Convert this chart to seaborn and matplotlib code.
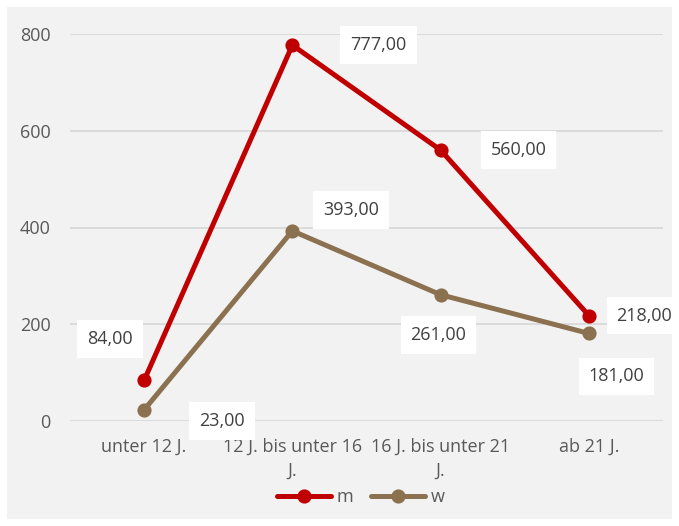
import matplotlib
matplotlib.use("Agg")
import matplotlib.pyplot as plt
import seaborn as sns
import pandas as pd
from matplotlib.patches import Rectangle

categories = ["unter 12 J.", "12 J. bis unter 16\nJ.", "16 J. bis unter 21\nJ.", "ab 21 J."]
m_values = [84, 777, 560, 218]
w_values = [23, 393, 261, 181]
series_names = ["m", "w"]
y_ticks = [0, 200, 400, 600, 800]

colors = {"m": "#c00000", "w": "#8b7150"}

sns.set_theme(style="white")
plt.rcParams['font.family'] = ['Open Sans', 'DejaVu Sans']
FS = 13

df = pd.DataFrame({
    "cat": categories * 2,
    "val": m_values + w_values,
    "ser": ["m"] * 4 + ["w"] * 4,
})

fig = plt.figure(figsize=(6.79, 5.26), dpi=100, facecolor="white")
bg = Rectangle((7 / 679, 7 / 526), 665 / 679, 512 / 526, transform=fig.transFigure,
               facecolor="#f2f2f2", edgecolor="none", zorder=-10)
fig.patches.append(bg)
ax = fig.add_axes([70 / 679, 1 - 421 / 526, 593 / 679, 387 / 526])
ax.patch.set_alpha(0)

sns.pointplot(data=df, x="cat", y="val", hue="ser", palette=colors, ax=ax,
              markers="o", linewidth=3.6, markersize=7.5, errorbar=None)

ax.set_ylim(0, 800)
ax.set_yticks(y_ticks)
ax.set_xlim(-0.5, 3.5)
ax.yaxis.grid(True, color="#d9d9d9", linewidth=1.3)
ax.set_axisbelow(True)
for s in ax.spines.values():
    s.set_visible(False)
ax.set_xlabel("")
ax.set_ylabel("")
ax.tick_params(axis="both", length=0, colors="#595959", labelsize=FS)
ax.tick_params(axis="y", pad=14)
ax.tick_params(axis="x", pad=12)
for t in ax.get_xticklabels():
    t.set_linespacing(1.45)

box = dict(boxstyle="square,pad=0.55", facecolor="white", edgecolor="none")
m_off = [(-24.5, 29.5), (62, 0), (56, 0), (40, 0)]
w_off = [(56, -8), (42, 15), (-1.5, -29), (20, -31)]
for i in range(4):
    ax.annotate(f"{m_values[i]},00", (i, m_values[i]), xytext=m_off[i], textcoords="offset points",
                ha="center", va="center", fontsize=FS, color="#404040", bbox=box, zorder=5)
    ax.annotate(f"{w_values[i]},00", (i, w_values[i]), xytext=w_off[i], textcoords="offset points",
                ha="center", va="center", fontsize=FS, color="#404040", bbox=box, zorder=5)

leg = ax.legend(loc="center", bbox_to_anchor=(0.49, -0.196), ncol=2, frameon=False,
                fontsize=FS, handlelength=3.0, handletextpad=0.3, columnspacing=1.0)
for t in leg.get_texts():
    t.set_color("#595959")

fig.savefig("out.png", dpi=100, facecolor="white")
